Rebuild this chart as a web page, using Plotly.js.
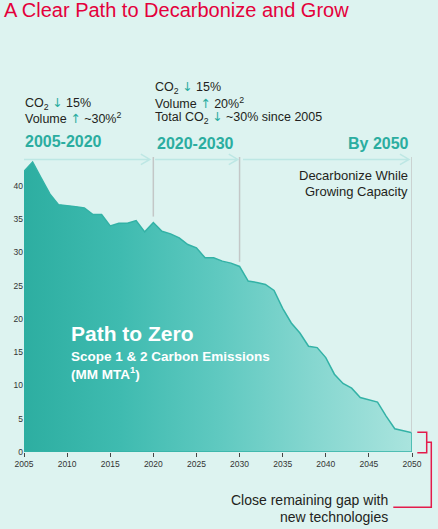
<!DOCTYPE html>
<html>
<head>
<meta charset="utf-8">
<script src="https://cdn.plot.ly/plotly-3.0.1.min.js"></script>
<style>html,body{margin:0;padding:0;background:#DDF3F0;}#chart{width:438px;height:529px;}</style>
</head>
<body>
<div id="chart"></div>
<script>
// ---- data ----
const years = [2005,2006,2007,2008,2009,2010,2011,2012,2013,2014,2015,2016,2017,2018,2019,2020,2021,2022,2023,2024,2025,2026,2027,2028,2029,2030,2031,2032,2033,2034,2035,2036,2037,2038,2039,2040,2041,2042,2043,2044,2045,2046,2047,2048,2049,2050];
const emissions = [42.2,43.6,41.2,38.8,37.2,37.1,36.9,36.7,35.7,35.7,34.0,34.4,34.4,34.8,33.1,34.5,33.2,32.8,32.2,31.2,30.7,29.2,29.2,28.7,28.4,27.9,25.7,25.5,25.2,24.3,21.6,19.4,17.9,15.9,15.7,14.2,11.7,10.3,9.6,8.2,7.8,7.5,5.4,3.5,3.2,2.9];
const xTicks = [2005,2010,2015,2020,2025,2030,2035,2040,2045,2050];
const yTicks = [0,5,10,15,20,25,30,35,40];
const periodLabels = ["2005-2020","2020-2030","By 2050"];
const periodEnds = [2020,2030,2050];

// ---- geometry helpers (pixel -> paper) ----
const L = 24, W = 388, T = 150, H = 302;
const px = x => (x - L) / W;
const py = y => (T + H - y) / H;
const yMax = H / 6.65;

const TEAL = '#2BADA0', DARK = '#231F20', RED = '#E31B4B', ARROWC = '#BDE7E4', GRAY = '#C3C7C7';
const FONT = 'Liberation Sans, Arial, Helvetica, sans-serif';

const lastX = years[years.length - 1], firstX = years[0];
const trace = {
  type: 'scatter', mode: 'lines',
  x: years.concat([lastX, firstX]),
  y: emissions.concat([0, 0]),
  fill: 'toself',
  fillgradient: {type: 'horizontal', colorscale: [[0,'#2DAEA1'],[0.25,'#3FBBB0'],[0.5,'#5FC9C0'],[0.75,'#86D7D0'],[1,'#AAE4DE']]},
  line: {color: '#33B2A6', width: 1.5},
  hoverinfo: 'skip', cliponaxis: false
};

const up = `<span style="color:${TEAL};font-family:'DejaVu Sans';font-size:12.5px">↑</span>`;
const down = `<span style="color:${TEAL};font-family:'DejaVu Sans';font-size:12.5px">↓</span>`;

function ann(text, x, y, xanchor, size, color) {
  return {text, x: px(x), y: py(y), xref: 'paper', yref: 'paper', xanchor, yanchor: 'middle',
    showarrow: false, font: {size, color, family: FONT}, align: xanchor === 'right' ? 'right' : 'left'};
}

const annotations = [
  ann(`CO<sub>2</sub> ${down} 15%`, 23, 103.3, 'left', 12.5, DARK),
  ann(`Volume ${up} ~30%<sup>2</sup>`, 23, 118, 'left', 12.5, DARK),
  ann(`CO<sub>2</sub> ${down} 15%`, 152.7, 87.7, 'left', 12.5, DARK),
  ann(`Volume ${up} 20%<sup>2</sup>`, 152.7, 102.7, 'left', 12.5, DARK),
  ann(`Total CO<sub>2</sub> ${down} ~30% since 2005`, 152.7, 117.7, 'left', 12.5, DARK),
  ann(`<b>${periodLabels[0]}</b>`, 23, 141.7, 'left', 16, TEAL),
  ann(`<b>${periodLabels[1]}</b>`, 155, 143.5, 'left', 16, TEAL),
  ann(`<b>${periodLabels[2]}</b>`, 410.5, 143.5, 'right', 16, TEAL),
  ann('Decarbonize While', 409.5, 175.7, 'right', 13, DARK),
  ann('Growing Capacity', 409.5, 191, 'right', 13, DARK),
  ann('<b>Path to Zero</b>', 69, 333, 'left', 21, '#FFFFFF'),
  ann('<b>Scope 1 &amp; 2 Carbon Emissions</b>', 69, 356.7, 'left', 13.5, '#FFFFFF'),
  ann('<b>(MM MTA<sup>1</sup>)</b>', 69, 373.3, 'left', 13.5, '#FFFFFF'),
  ann('Close remaining gap with', 389.5, 500, 'right', 14, DARK),
  ann('new technologies', 389.5, 516.7, 'right', 14, DARK)
];

const shapes = [];
// vertical period dividers
[[periodEnds[0], 35.4], [periodEnds[1], 28.6], [periodEnds[2], emissions[emissions.length-1]]].forEach(([x, y0]) => {
  shapes.push({type: 'line', xref: 'x', yref: 'y', x0: x, x1: x, y0: y0, y1: 44.36, line: {color: GRAY, width: 1.5}});
});
// period arrows
const ay = 44.0, ah = 0.8, ad = 1.05;
[[2005, 2019.6], [2020.2, 2029.8], [2030.4, 2049.65]].forEach(([a, b]) => {
  shapes.push({type: 'path', xref: 'x', yref: 'y',
    path: `M${a},${ay} L${b},${ay} M${b-ad},${ay+ah} L${b},${ay} L${b-ad},${ay-ah}`,
    line: {color: ARROWC, width: 1.5}});
});
// red bracket
const bracket = `M${px(417.3)},${py(432.3)} L${px(426.7)},${py(432.3)} L${px(426.7)},${py(452.7)} L${px(417.3)},${py(452.7)} ` +
  `M${px(426.7)},${py(442.3)} L${px(431.3)},${py(442.3)} L${px(431.3)},${py(507.3)} L${px(393.3)},${py(507.3)}`;
shapes.push({type: 'path', xref: 'paper', yref: 'paper', path: bracket, line: {color: RED, width: 1.5}});

const layout = {
  width: 438, height: 529,
  margin: {l: L, r: 438 - L - W, t: T, b: 529 - T - H, pad: 0},
  paper_bgcolor: '#DDF3F0', plot_bgcolor: '#DDF3F0',
  font: {family: FONT, color: DARK},
  showlegend: false,
  title: {text: 'A Clear Path to Decarbonize and Grow', font: {size: 20, color: '#E4003B', family: FONT},
    x: 4/438, xanchor: 'left', xref: 'container', y: 1 - 10/529, yanchor: 'middle', yref: 'container', pad: {t:0,b:0,l:0,r:0}},
  xaxis: {range: [2005, 2050], tickvals: xTicks, ticktext: xTicks.map(String), ticks: 'outside', ticklen: 4, tickwidth: 1, tickcolor: '#444',
    showgrid: false, zeroline: false, showline: false, tickfont: {size: 8.5, color: '#333'}, fixedrange: true},
  yaxis: {range: [0, yMax], tickvals: yTicks, ticks: '', showgrid: false, zeroline: false, showline: false,
    tickfont: {size: 8.5, color: '#333'}, fixedrange: true},
  annotations, shapes
};

Plotly.newPlot('chart', [trace], layout, {displayModeBar: false, staticPlot: true});
</script>
</body>
</html>
